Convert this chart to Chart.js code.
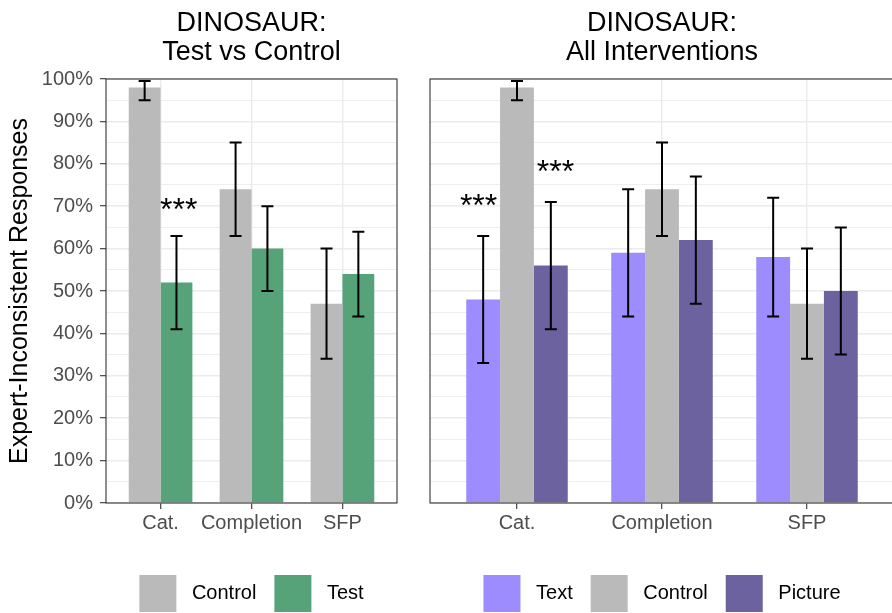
<!DOCTYPE html>
<html>
<head>
<meta charset="utf-8">
<script src="https://cdn.jsdelivr.net/npm/chart.js@4.4.1/dist/chart.umd.min.js"></script>
<style>
  html, body { margin: 0; padding: 0; background: #fff; overflow: hidden; }
  body { width: 892px; height: 613px; position: relative; }
  .panel { position: absolute; top: 0; height: 613px; }
</style>
</head>
<body>
<div class="panel" style="left:0; width:503px;"><canvas id="leftChart"></canvas></div>
<div class="panel" style="left:420px; width:484px;"><canvas id="rightChart"></canvas></div>
<script>
const categories = ['Cat.', 'Completion', 'SFP'];
const catPos = [1, 2, 3];

// Test vs Control
const leftControl = [98, 74, 47];
const leftControlLow = [95, 63, 34];
const leftControlHigh = [99.5, 85, 60];
const leftTest = [52, 60, 54];
const leftTestLow = [41, 50, 44];
const leftTestHigh = [63, 70, 64];

// All interventions
const rightText = [48, 59, 58];
const rightTextLow = [33, 44, 44];
const rightTextHigh = [63, 74, 72];
const rightControl = [98, 74, 47];
const rightControlLow = [95, 63, 34];
const rightControlHigh = [99.5, 85, 60];
const rightPicture = [56, 62, 50];
const rightPictureLow = [41, 47, 35];
const rightPictureHigh = [71, 77, 65];

// significance stars (x in category units, y in %)
const leftStarX = [1.2];
const leftStarY = [71];
const rightStarX = [0.735, 1.265];
const rightStarY = [72, 80];

const FONT = "'Liberation Sans', Arial, Helvetica, sans-serif";
const GREY = '#bababa';
const GREEN = '#57a379';
const TEXTC = '#9d8cfe';
const PICT = '#6c62a0';

function toPoints(vals) {
  return vals.map((v, i) => ({ x: catPos[i], y: v }));
}

const errorBars = {
  id: 'errorBars',
  afterDatasetsDraw(chart) {
    const ctx = chart.ctx;
    const y = chart.scales.y;
    ctx.save();
    ctx.strokeStyle = '#000';
    ctx.lineWidth = 2;
    chart.data.datasets.forEach((ds, di) => {
      const meta = chart.getDatasetMeta(di);
      meta.data.forEach((bar, i) => {
        const top = y.getPixelForValue(ds.errHigh[i]);
        const bot = y.getPixelForValue(ds.errLow[i]);
        ctx.beginPath();
        ctx.moveTo(bar.x, top); ctx.lineTo(bar.x, bot);
        ctx.moveTo(bar.x - 6, top); ctx.lineTo(bar.x + 6, top);
        ctx.moveTo(bar.x - 6, bot); ctx.lineTo(bar.x + 6, bot);
        ctx.stroke();
      });
    });
    ctx.restore();
  }
};

const stars = {
  id: 'stars',
  afterDatasetsDraw(chart, args, opts) {
    const ctx = chart.ctx;
    ctx.save();
    ctx.fillStyle = '#000';
    ctx.font = '32px ' + FONT;
    ctx.textAlign = 'center';
    ctx.textBaseline = 'alphabetic';
    opts.xs.forEach((xv, i) => {
      const px = chart.scales.x.getPixelForValue(xv);
      const py = chart.scales.y.getPixelForValue(opts.ys[i]);
      ctx.fillText('***', px, py + 0.575 * 32);
    });
    ctx.restore();
  }
};

const panelBorder = {
  id: 'panelBorder',
  afterDraw(chart) {
    const a = chart.chartArea;
    const ctx = chart.ctx;
    ctx.save();
    ctx.strokeStyle = '#333333';
    ctx.lineWidth = 1.1;
    ctx.strokeRect(a.left, a.top, a.right - a.left, a.bottom - a.top);
    ctx.restore();
  }
};

function makePanel(id, titleLines, datasets, leftW, rightW, showY, starX, starY) {
  return new Chart(document.getElementById(id), {
    type: 'bar',
    data: { datasets: datasets },
    plugins: [errorBars, stars, panelBorder],
    options: {
      responsive: true,
      maintainAspectRatio: false,
      animation: false,
      layout: { padding: { top: 0, bottom: -9, left: 0, right: 0 } },
      datasets: { bar: { categoryPercentage: 0.7, barPercentage: 1.0, borderWidth: 0 } },
      scales: {
        x: {
          type: 'linear',
          min: 0.4,
          max: 3.6,
          offset: false,
          afterBuildTicks(s) { s.ticks = catPos.map(v => ({ value: v })); },
          afterFit(s) { s.height += 20; },
          ticks: {
            color: '#4d4d4d',
            font: { family: FONT, size: 20 },
            padding: 2,
            maxRotation: 0,
            autoSkip: false,
            callback: v => categories[v - 1]
          },
          grid: { offset: false, color: '#ebebeb', lineWidth: 1.4, tickColor: '#333333', tickLength: 6, tickWidth: 1.1 },
          border: { display: false }
        },
        y: {
          min: 0,
          max: 100,
          afterBuildTicks(s) {
            const t = [];
            for (let v = 0; v <= 100; v += 5) t.push({ value: v });
            s.ticks = t;
          },
          afterFit(s) { s.width = leftW; },
          title: {
            display: showY,
            text: 'Expert-Inconsistent Responses',
            color: '#000',
            font: { family: FONT, size: 25, lineHeight: 1.2 },
            padding: { top: 5, bottom: 0 }
          },
          ticks: {
            display: showY,
            color: '#4d4d4d',
            font: { family: FONT, size: 20 },
            padding: 7,
            autoSkip: false,
            callback: v => (v % 10 === 0 ? v + '%' : '')
          },
          grid: {
            color: '#ebebeb',
            lineWidth: c => (c.tick && c.tick.value % 10 === 0 ? 1.4 : 0.8),
            drawTicks: showY,
            tickLength: 6,
            tickWidth: 1.1,
            tickColor: c => (c.tick && c.tick.value % 10 === 0 ? '#333333' : 'rgba(0,0,0,0)')
          },
          border: { display: false }
        },
        y2: {
          type: 'linear',
          position: 'right',
          display: true,
          afterFit(s) { s.width = rightW; },
          ticks: { display: false },
          grid: { display: false, drawTicks: false },
          border: { display: false }
        }
      },
      plugins: {
        title: {
          display: true,
          text: titleLines,
          color: '#000',
          font: { family: FONT, size: 27, weight: 'normal', lineHeight: 1.074 },
          padding: { top: 9, bottom: 12 }
        },
        legend: {
          position: 'bottom',
          labels: {
            color: '#000',
            font: { family: FONT, size: 20 },
            boxWidth: 37,
            boxHeight: 37,
            padding: 18,
            generateLabels(chart) {
              return Chart.defaults.plugins.legend.labels.generateLabels(chart)
                .map(item => Object.assign(item, { text: ' ' + item.text, lineWidth: 0 }));
            }
          }
        },
        tooltip: { enabled: false },
        stars: { xs: starX, ys: starY }
      }
    }
  });
}

makePanel('leftChart', ['DINOSAUR:', 'Test vs Control'], [
  { label: 'Control', data: toPoints(leftControl), backgroundColor: GREY, errLow: leftControlLow, errHigh: leftControlHigh },
  { label: 'Test', data: toPoints(leftTest), backgroundColor: GREEN, errLow: leftTestLow, errHigh: leftTestHigh }
], 106, 106, true, leftStarX, leftStarY);

makePanel('rightChart', ['DINOSAUR:', 'All Interventions'], [
  { label: 'Text', data: toPoints(rightText), backgroundColor: TEXTC, errLow: rightTextLow, errHigh: rightTextHigh },
  { label: 'Control', data: toPoints(rightControl), backgroundColor: GREY, errLow: rightControlLow, errHigh: rightControlHigh },
  { label: 'Picture', data: toPoints(rightPicture), backgroundColor: PICT, errLow: rightPictureLow, errHigh: rightPictureHigh }
], 10, 10, false, rightStarX, rightStarY);
</script>
</body>
</html>
